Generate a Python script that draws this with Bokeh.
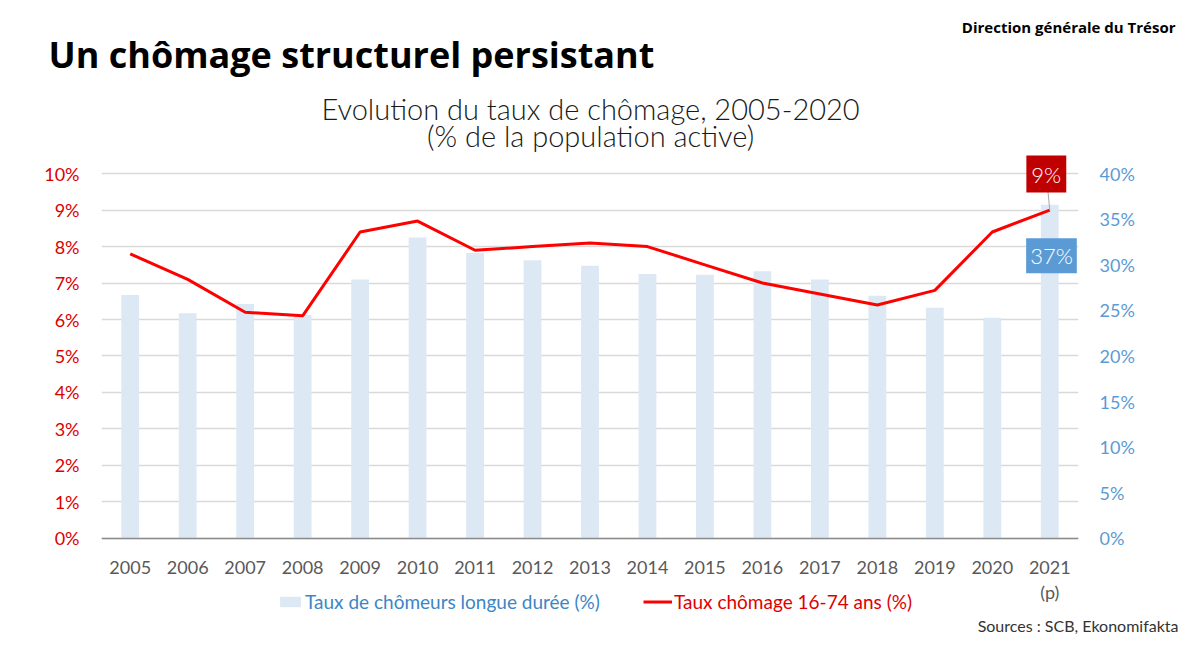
from bokeh.plotting import figure
from bokeh.models import (FactorRange, Range1d, LinearAxis, FixedTicker, Label,
                          Legend, LegendItem, Title)
from bokeh.embed import file_html
from bokeh.resources import INLINE

years = [str(y) for y in range(2005, 2022)]
taux_chomage = [7.8, 7.1, 6.2, 6.1, 8.4, 8.7, 7.9, 8.0, 8.1, 8.0, 7.5, 7.0, 6.7, 6.4, 6.8, 8.4, 9.0]
longue_duree = [26.7, 24.7, 25.7, 24.5, 28.4, 33.0, 31.3, 30.5, 29.9, 29.0, 28.9, 29.3, 28.4, 26.6, 25.3, 24.2, 36.6]
left_ticks = list(range(0, 11))
right_ticks = list(range(0, 45, 5))

FONT = "Lato"
TFONT = "Open Sans"
LIGHT = "Lato Light, Lato"
RED_TXT = "#dd0000"
BLUE_TXT = "#5b9bd5"

# frame spans from below the title down to the legend (36.4 px per left-axis unit)
Y_MIN, Y_MAX = -2.063, 12.61

p = figure(width=1180, height=634, x_range=FactorRange(*years), y_range=Range1d(Y_MIN, Y_MAX),
           output_backend="svg", toolbar_location=None,
           min_border_left=101, min_border_right=102, min_border_top=78, min_border_bottom=10)
p.outline_line_color = None
p.extra_y_ranges = {"right": Range1d(Y_MIN * 4, Y_MAX * 4)}

bars = p.vbar(x=years, top=longue_duree, width=0.31, y_range_name="right",
              fill_color="#dde8f5", line_color=None)
line = p.line(x=years, y=taux_chomage, line_color="#ff0000", line_width=3)

# axes
p.xgrid.grid_line_color = None
p.ygrid.grid_line_color = "#d9d9d9"
p.ygrid.grid_line_width = 1.5
p.ygrid.ticker = FixedTicker(ticks=left_ticks)

xa = p.xaxis[0]
xa.fixed_location = 0
xa.axis_line_color = "#8c8c8c"
xa.axis_line_width = 1.5
xa.major_tick_line_color = None
xa.major_label_text_font = FONT
xa.major_label_text_font_size = "18px"
xa.major_label_text_color = "#595959"
xa.major_label_standoff = 17

ya = p.yaxis[0]
ya.ticker = FixedTicker(ticks=left_ticks)
ya.major_label_overrides = {t: f"{t}%" for t in left_ticks}
ya.axis_line_color = None
ya.major_tick_line_color = None
ya.minor_tick_line_color = None
ya.major_label_text_font = FONT
ya.major_label_text_font_size = "18px"
ya.major_label_text_color = RED_TXT
ya.major_label_standoff = 16

ra = LinearAxis(y_range_name="right", ticker=FixedTicker(ticks=right_ticks))
ra.major_label_overrides = {t: f"{t}%" for t in right_ticks}
ra.axis_line_color = None
ra.major_tick_line_color = None
ra.minor_tick_line_color = None
ra.major_label_text_font = FONT
ra.major_label_text_font_size = "18px"
ra.major_label_text_color = BLUE_TXT
ra.major_label_standoff = 15
p.add_layout(ra, "right")

# titles in side panels (not clipped by the frame)
p.add_layout(Title(text="Un chômage structurel persistant", align="left", offset=-53,
                   text_font=TFONT, text_font_size="36px", text_font_style="bold",
                   text_color="#000000", standoff=0), "above")
p.add_layout(Title(text="Direction générale du Trésor", align="right", offset=-97,
                   text_font=TFONT, text_font_size="15px", text_font_style="bold",
                   text_color="#000000", standoff=-18), "above")
p.add_layout(Title(text="Sources : SCB, Ekonomifakta", align="right", offset=-100,
                   text_font=FONT, text_font_size="16px", text_font_style="normal",
                   text_color="#333333", standoff=0), "below")

# connector for the 9% label
p.segment(x0=[16.47], y0=[9.5], x1=[16.5], y1=[taux_chomage[-1]], line_color="#a6a6a6", line_width=1)

def lab(text, x, y, size, color="#000000", font=FONT, style="normal", align="left",
        baseline="middle", **kw):
    l = Label(x=x, y=y, text=text, text_font=font, text_font_size=size, text_color=color,
              text_font_style=style, text_align=align, text_baseline=baseline, **kw)
    p.add_layout(l)
    return l

lab("Evolution du taux de chômage, 2005-2020", 8.51, 11.80, "29px", color="#1a1a1a",
    font=LIGHT, align="center")
lab("(% de la population active)", 8.51, 11.04, "29px", color="#1a1a1a",
    font=LIGHT, align="center")
lab("(p)", 16.5, -1.48, "18px", color="#595959", align="center")

lab(f"{taux_chomage[-1]:.0f}%", 16.44, 9.99, "22px", color="white", font=LIGHT, align="center",
    background_fill_color="#c00000", padding=5)
lab(f"{longue_duree[-1]:.0f}%", 16.53, 7.75, "22px", color="white", font=LIGHT, align="center",
    background_fill_color="#5b9bd5", padding=4)

def mk_legend(label, r, loc, color, gw):
    leg = Legend(items=[LegendItem(label=label, renderers=[r])], location=loc,
                 orientation="horizontal", glyph_width=gw, glyph_height=13, label_standoff=2,
                 label_height=16, padding=0, margin=0, spacing=0, border_line_color=None,
                 background_fill_alpha=0, label_text_font=FONT, label_text_font_size="19px",
                 label_text_color=color)
    p.add_layout(leg, "center")

mk_legend("Taux de chômeurs longue durée (%)", bars, (176, 0), "#3d85c6", 26)
mk_legend("Taux chômage 16-74 ans (%)", line, (542, 0), "#e00000", 29)

open("out.html", "w").write(file_html(p, INLINE))
